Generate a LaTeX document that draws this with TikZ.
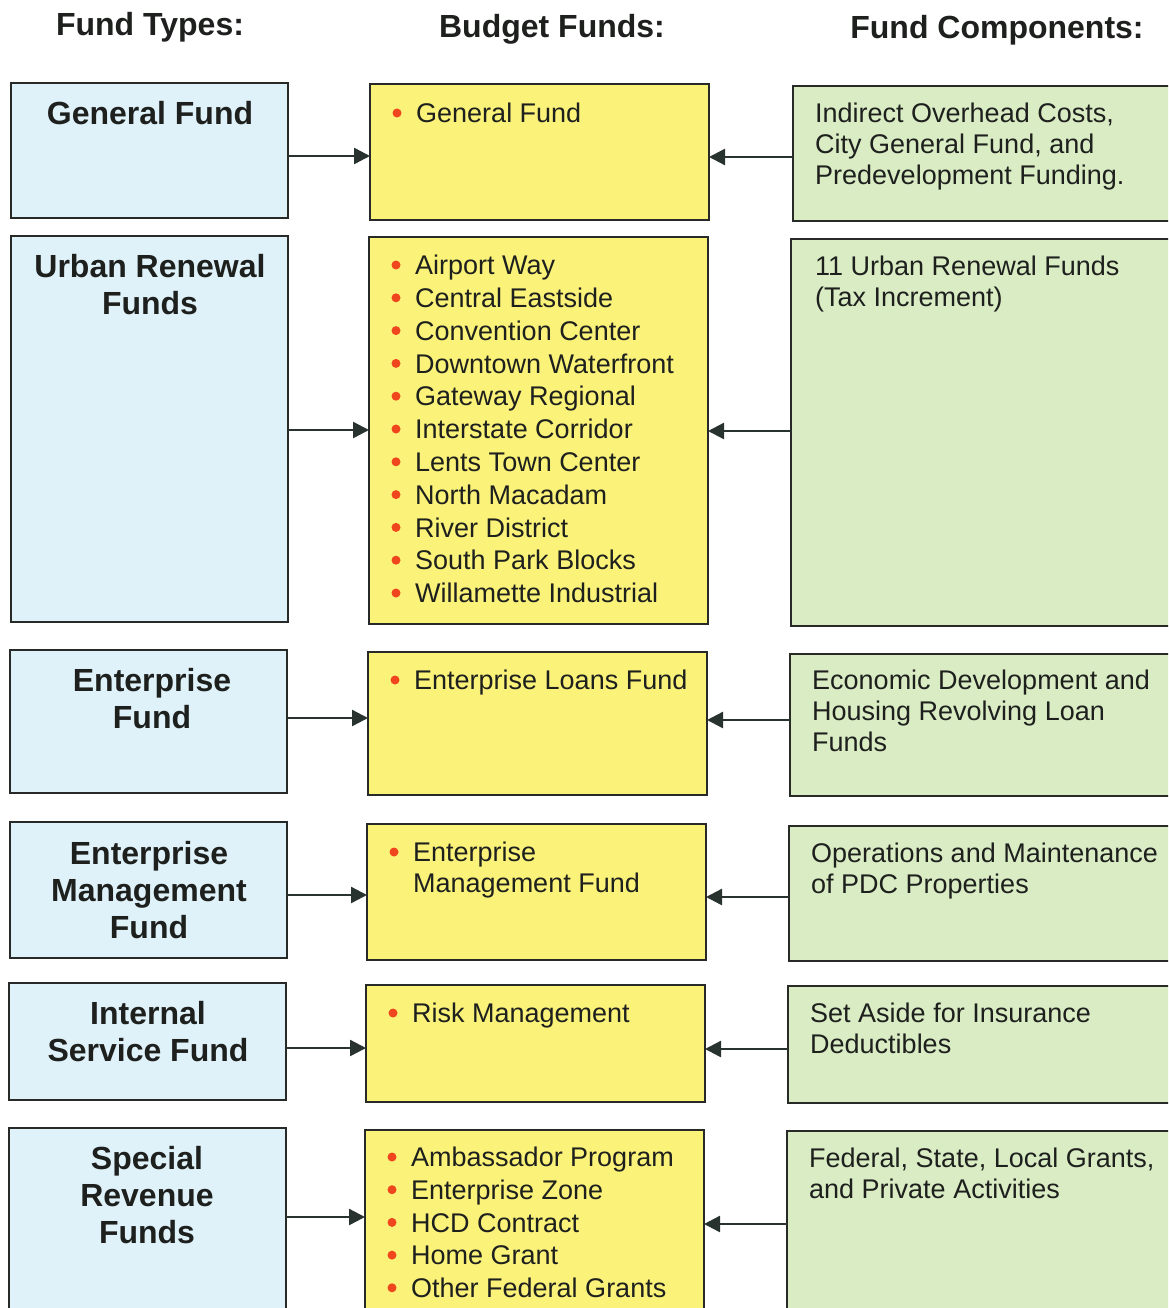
\documentclass[tikz,border=0pt]{standalone}
\usepackage{fontspec}
\setmainfont{Liberation Sans}
\usetikzlibrary{arrows.meta}
\definecolor{bluefill}{RGB}{223,242,250}
\definecolor{yellowfill}{RGB}{251,242,122}
\definecolor{greenfill}{RGB}{218,236,196}
\definecolor{edge}{RGB}{40,42,40}
\definecolor{ink}{RGB}{30,32,30}
\definecolor{bulletred}{RGB}{240,70,30}
\definecolor{arrowc}{RGB}{40,50,46}
\begin{document}
\begin{tikzpicture}[x=1pt,y=-1pt,
  box/.style={draw=edge, line width=2.6pt, anchor=north west, inner sep=0pt, outer sep=0pt},
  bbox/.style={box, fill=bluefill, minimum width=277pt},
  ybox/.style={box, fill=yellowfill, minimum width=339pt},
  gbox/.style={box, fill=greenfill, minimum width=400pt},
  hdr/.style={font=\fontsize{32}{37}\selectfont\bfseries, text=ink, inner sep=0pt, anchor=base},
  ttl/.style={font=\fontsize{32}{37}\selectfont\bfseries, text=ink, inner sep=0pt, anchor=north, align=center},
  itm/.style={font=\fontsize{27}{32.8}\selectfont, text=ink, inner sep=0pt, anchor=north west, align=left},
  cmp/.style={font=\fontsize{27}{31}\selectfont, text=ink, inner sep=0pt, anchor=north west, align=left},
  dot/.style={circle, fill=bulletred, inner sep=0pt, minimum size=9pt},
  arr/.style={draw=arrowc, line width=2.4pt, -{Triangle[length=16pt,width=16pt]}}
]
\clip (0,0) rectangle (1168,1308);
\fill[white] (0,0) rectangle (1168,1308);

% headers
\node[hdr] (h1) at (150,36) {Fund Types:};
\node[hdr] (h2) at (552,38) {Budget Funds:};
\node[hdr] (h3) at (997,39) {Fund Components:};

% ---------- row 1
\node[bbox, minimum height=135pt] (b1) at (11,83) {};
\node[ybox, minimum height=136pt] (y1) at (370,84) {};
\node[gbox, minimum height=135pt] (g1) at (793,86) {};
\node[ttl] (b1t) at (150,101) {General Fund};
\node[dot] (y1d0) at (397,113) {};
\node[itm] (y1t) at (416,103) {General Fund};
\node[cmp] (g1t) at (815,103) {Indirect Overhead Costs,\\City General Fund, and\\Predevelopment Funding.};

% ---------- row 2
\node[bbox, minimum height=386pt] (b2) at (11,236) {};
\node[ybox, minimum height=387pt] (y2) at (369,237) {};
\node[gbox, minimum height=387pt] (g2) at (791,239) {};
\node[ttl] (b2t) at (150,254) {Urban Renewal\\Funds};
\foreach \k in {0,...,10} \node[dot] (y2d\k) at (396,{265+32.8*\k}) {};
\node[itm] (y2t) at (415,255) {Airport Way\\Central Eastside\\Convention Center\\Downtown Waterfront\\Gateway Regional\\Interstate Corridor\\Lents Town Center\\North Macadam\\River District\\South Park Blocks\\Willamette Industrial};
\node[cmp] (g2t) at (815,256) {11 Urban Renewal Funds\\(Tax Increment)};

% ---------- row 3
\node[bbox, minimum height=143pt] (b3) at (10,650) {};
\node[ybox, minimum height=143pt] (y3) at (368,652) {};
\node[gbox, minimum height=142pt] (g3) at (790,654) {};
\node[ttl] (b3t) at (152,668) {Enterprise\\Fund};
\node[dot] (y3d0) at (395,680) {};
\node[itm] (y3t) at (414,670) {Enterprise Loans Fund};
\node[cmp] (g3t) at (812,670) {Economic Development and\\Housing Revolving Loan\\Funds};

% ---------- row 4
\node[bbox, minimum height=136pt] (b4) at (10,822) {};
\node[ybox, minimum height=136pt] (y4) at (367,824) {};
\node[gbox, minimum height=135pt] (g4) at (789,826) {};
\node[ttl] (b4t) at (149,841) {Enterprise\\Management\\Fund};
\node[dot] (y4d0) at (394,852) {};
\node[itm, font=\fontsize{27}{31}\selectfont] (y4t) at (413,842) {Enterprise\\Management Fund};
\node[cmp] (g4t) at (811,843) {Operations and Maintenance\\of PDC Properties};

% ---------- row 5
\node[bbox, minimum height=117pt] (b5) at (9,983) {};
\node[ybox, minimum height=117pt] (y5) at (366,985) {};
\node[gbox, minimum height=117pt] (g5) at (788,986) {};
\node[ttl] (b5t) at (148,1001) {Internal\\Service Fund};
\node[dot] (y5d0) at (393,1013) {};
\node[itm] (y5t) at (412,1003) {Risk Management};
\node[cmp] (g5t) at (810,1003) {Set Aside for Insurance\\Deductibles};

% ---------- row 6
\node[bbox, minimum height=200pt] (b6) at (9,1128) {};
\node[ybox, minimum height=200pt] (y6) at (365,1130) {};
\node[gbox, minimum height=200pt] (g6) at (787,1131) {};
\node[ttl] (b6t) at (147,1146) {Special\\Revenue\\Funds};
\foreach \k in {0,...,4} \node[dot] (y6d\k) at (392,{1157+32.7*\k}) {};
\node[itm, font=\fontsize{27}{32.7}\selectfont] (y6t) at (411,1147) {Ambassador Program\\Enterprise Zone\\HCD Contract\\Home Grant\\Other Federal Grants};
\node[cmp] (g6t) at (809,1148) {Federal, State, Local Grants,\\and Private Activities};

% ---------- connectors
\draw[arr] (b1.east |- 0,156) -- (y1.west |- 0,156);
\draw[arr] (g1.west |- 0,157) -- (y1.east |- 0,157);
\draw[arr] (b2.east |- 0,430) -- (y2.west |- 0,430);
\draw[arr] (g2.west |- 0,431) -- (y2.east |- 0,431);
\draw[arr] (b3.east |- 0,718) -- (y3.west |- 0,718);
\draw[arr] (g3.west |- 0,720) -- (y3.east |- 0,720);
\draw[arr] (b4.east |- 0,895) -- (y4.west |- 0,895);
\draw[arr] (g4.west |- 0,897) -- (y4.east |- 0,897);
\draw[arr] (b5.east |- 0,1048) -- (y5.west |- 0,1048);
\draw[arr] (g5.west |- 0,1049) -- (y5.east |- 0,1049);
\draw[arr] (b6.east |- 0,1217) -- (y6.west |- 0,1217);
\draw[arr] (g6.west |- 0,1224) -- (y6.east |- 0,1224);
\end{tikzpicture}
\end{document}
